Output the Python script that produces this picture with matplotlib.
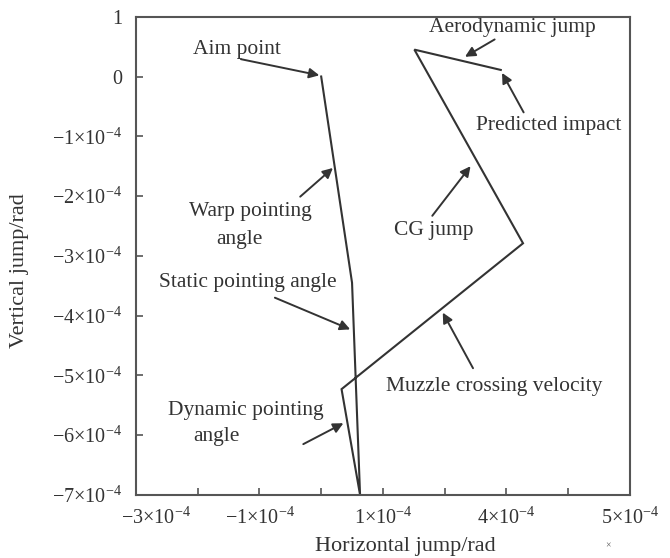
import matplotlib
matplotlib.use("Agg")
import matplotlib.pyplot as plt
import matplotlib.transforms as mtransforms

plt.rcParams["font.family"] = ["Liberation Serif", "DejaVu Serif"]
plt.rcParams["mathtext.fontset"] = "custom"
plt.rcParams["mathtext.rm"] = "Liberation Serif"
plt.rcParams["mathtext.it"] = "Liberation Serif:italic"

UNIT = 1e-4  # values below are in units of 1e-4 rad

# Jump path: aim point -> warp -> static -> dynamic -> muzzle -> CG -> aero -> impact
path_x = [0.00, 0.50, 0.63, 0.33, 3.27, 1.51, 2.91]
path_y = [0.00, -3.45, -7.00, -5.23, -2.79, 0.45, 0.11]

x_ticks = [-3, -2, -1, 0, 1, 2, 3, 4, 5]
x_tick_labels = [r"$-3{\times}10^{-4}$", "", r"$-1{\times}10^{-4}$", "",
                 r"$1{\times}10^{-4}$", "", r"$4{\times}10^{-4}$", "",
                 r"$5{\times}10^{-4}$"]
y_ticks = [1, 0, -1, -2, -3, -4, -5, -6, -7]
y_tick_labels = ["1", "0"] + [r"$-%d{\times}10^{-4}$" % k for k in range(1, 8)]

# (label, text position, arrow tail, arrow head)
notes = [
    ("Aim point", (-1.37, 0.46), (-1.30, 0.29), (-0.03, 0.02)),
    ("Aerodynamic jump", (3.10, 0.82), (2.81, 0.62), (2.33, 0.33)),
    ("Predicted impact", (3.69, -0.82), (3.28, -0.60), (2.93, 0.06)),
    ("CG jump", (1.83, -2.57), (1.80, -2.33), (2.42, -1.50)),
    ("Warp pointing", (-1.15, -2.26), (-0.34, -2.01), (0.19, -1.53)),
    ("angle", (-1.32, -2.73), None, None),
    ("Static pointing angle", (-1.19, -3.45), (-0.75, -3.70), (0.47, -4.23)),
    ("Muzzle crossing velocity", (2.81, -5.19), (2.46, -4.88), (1.97, -3.95)),
    ("Dynamic pointing", (-1.22, -5.58), (-0.29, -6.15), (0.36, -5.80)),
    ("angle", (-1.69, -6.03), None, None),
]

ink = "#333333"
fig = plt.figure(figsize=(6.70, 5.58), dpi=100)
ax = fig.add_axes([0.203, 0.113, 0.737, 0.857])

ax.plot([v * UNIT for v in path_x], [v * UNIT for v in path_y],
        color=ink, lw=1.5, solid_joinstyle="miter")

for label, txt, tail, head in notes:
    ax.text(txt[0] * UNIT, txt[1] * UNIT, label, ha="center", va="center",
            fontsize=15.5, color=ink)
    if tail is not None:
        ax.annotate("", xy=(head[0] * UNIT, head[1] * UNIT),
                    xytext=(tail[0] * UNIT, tail[1] * UNIT),
                    arrowprops=dict(arrowstyle="-|>", color=ink, lw=1.4,
                                    mutation_scale=15, shrinkA=0, shrinkB=0))

ax.set_xlim(-3 * UNIT, 5 * UNIT)
ax.set_ylim(-7 * UNIT, 1 * UNIT)
ax.set_xticks([v * UNIT for v in x_ticks])
ax.set_xticklabels(x_tick_labels)
ax.set_yticks([v * UNIT for v in y_ticks])
ax.set_yticklabels(y_tick_labels)
ax.tick_params(direction="in", length=5, width=1.2, color="#555555",
               labelsize=14.5, labelcolor=ink)
ax.tick_params(axis="x", pad=9)
ax.tick_params(axis="y", pad=10)
first = ax.get_xticklabels()[0]
first.set_transform(first.get_transform() +
                    mtransforms.ScaledTranslation(0.2, 0, fig.dpi_scale_trans))

for s in ax.spines.values():
    s.set_color("#555555")
    s.set_linewidth(1.5)

ax.set_xlabel("Horizontal jump/rad", fontsize=16, color=ink)
ax.xaxis.label.set_va("center")
ax.xaxis.set_label_coords(0.545, -0.108)
ax.set_ylabel("Vertical jump/rad", fontsize=16, color=ink)
ax.yaxis.label.set_va("center")
ax.yaxis.set_label_coords(-0.236, 0.47)
fig.text(0.907, 0.018, "×", fontsize=7, color="#555555", ha="center")

fig.savefig("out.png", dpi=100)
